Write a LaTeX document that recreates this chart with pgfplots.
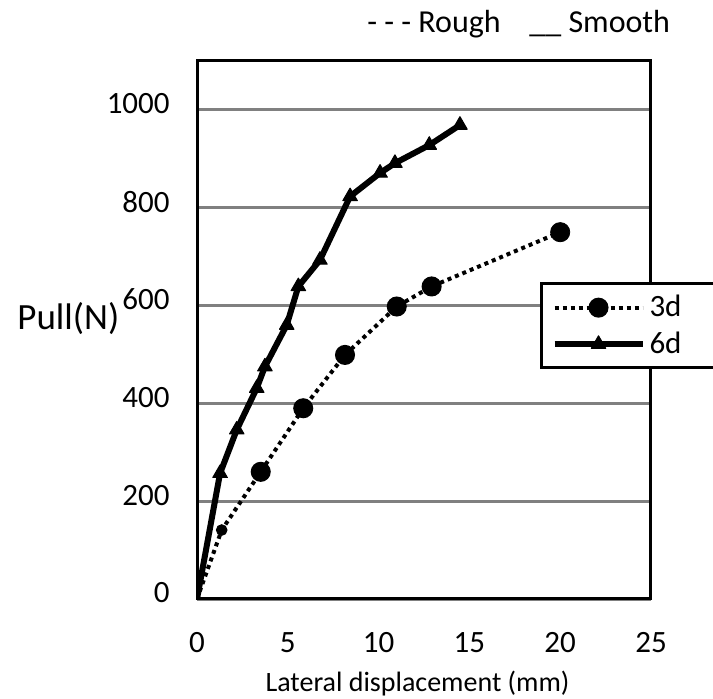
\documentclass[border=0pt]{standalone}
\usepackage{fontspec}
\setmainfont{Carlito}
\usepackage{pgfplots}
\pgfplotsset{compat=1.18}
\begin{document}
\begin{tikzpicture}
\begin{axis}[
  at={(98.5pt,50pt)}, anchor=south west,
  scale only axis, width=227pt, height=269pt,
  xmin=0, xmax=25, ymin=0, ymax=1100,
  xtick={0,5,...,25}, ytick={0,200,...,1000},
  major tick length=0pt,
  /pgf/number format/assume math mode=true,
  /pgf/number format/1000 sep={},
  ymajorgrids,
  grid style={black!50, line width=1.6pt},
  axis line style={line width=1.5pt},
  tick label style={font=\fontsize{15.5}{18}\selectfont},
  yticklabel style={anchor=east, inner sep=0pt, xshift=-13.5pt, yshift=3pt},
  xticklabel style={anchor=north, inner sep=0pt, yshift=-16.5pt},
  xlabel={Lateral displacement (mm)},
  ylabel={Pull(N)},
  every axis x label/.style={at={(axis description cs:0.4857,0)}, anchor=base, yshift=-46.4pt, inner sep=0pt, font=\fontsize{14}{16}\selectfont},
  every axis y label/.style={at={(axis description cs:0,0.5)}, anchor=base west, xshift=-90pt, inner sep=0pt, font=\fontsize{18.5}{21}\selectfont},
  legend style={name=leg, at={(0.758,0.5855)}, anchor=north west, draw=none, fill=white,
    font=\fontsize{15.5}{18}\selectfont, inner xsep=5pt, inner ysep=3.5pt, row sep=2pt},
  legend cell align=left,
  legend image code/.code={\draw[#1, mark indices={2}] plot coordinates {(0pt,0pt) (22pt,0pt) (44pt,0pt)};},
]
\addplot[black, line width=2pt, dash pattern=on 2pt off 2pt, mark=*, mark size=4pt, mark options={solid}, mark indices={3,4,5,6,7}]
  coordinates {(0,0) (1.36,141) (3.51,260) (5.85,390) (8.15,499) (11.0,598) (12.92,639) (20,750)};
\addlegendentry{\makebox[110pt][l]{3d}}
\addplot[black, line width=3pt, line join=round, mark=triangle*, mark size=4.2pt, mark options={solid, line width=0.5pt}, mark indices={2,...,13}]
  coordinates {(0,0) (1.27,257) (2.19,346) (3.29,431) (3.74,475) (4.94,560) (5.58,639) (6.77,693) (8.43,823) (10.08,871) (10.90,891) (12.79,928) (14.48,969)};
\addlegendentry{6d}
\addplot[forget plot, only marks, black, mark=*, mark size=2.7pt] coordinates {(1.36,141)};
\addplot[forget plot, only marks, black, mark=*, mark size=4.8pt] coordinates {(20,750)};
\end{axis}
\draw[line width=1.5pt, line cap=rect] (leg.north east) -- (leg.north west) -- (leg.south west) -- (leg.south east);
\node[anchor=base west, inner sep=0pt, font=\fontsize{16}{19}\selectfont] at (183.5pt,333pt) {- - - Rough};
\node[anchor=base west, inner sep=0pt, font=\fontsize{16}{19}\selectfont] at (264.5pt,333pt) {\_\_ Smooth};
\pgfresetboundingbox
\path[use as bounding box] (0pt,0pt) rectangle (356.5pt,349.5pt);
\end{tikzpicture}
\end{document}
